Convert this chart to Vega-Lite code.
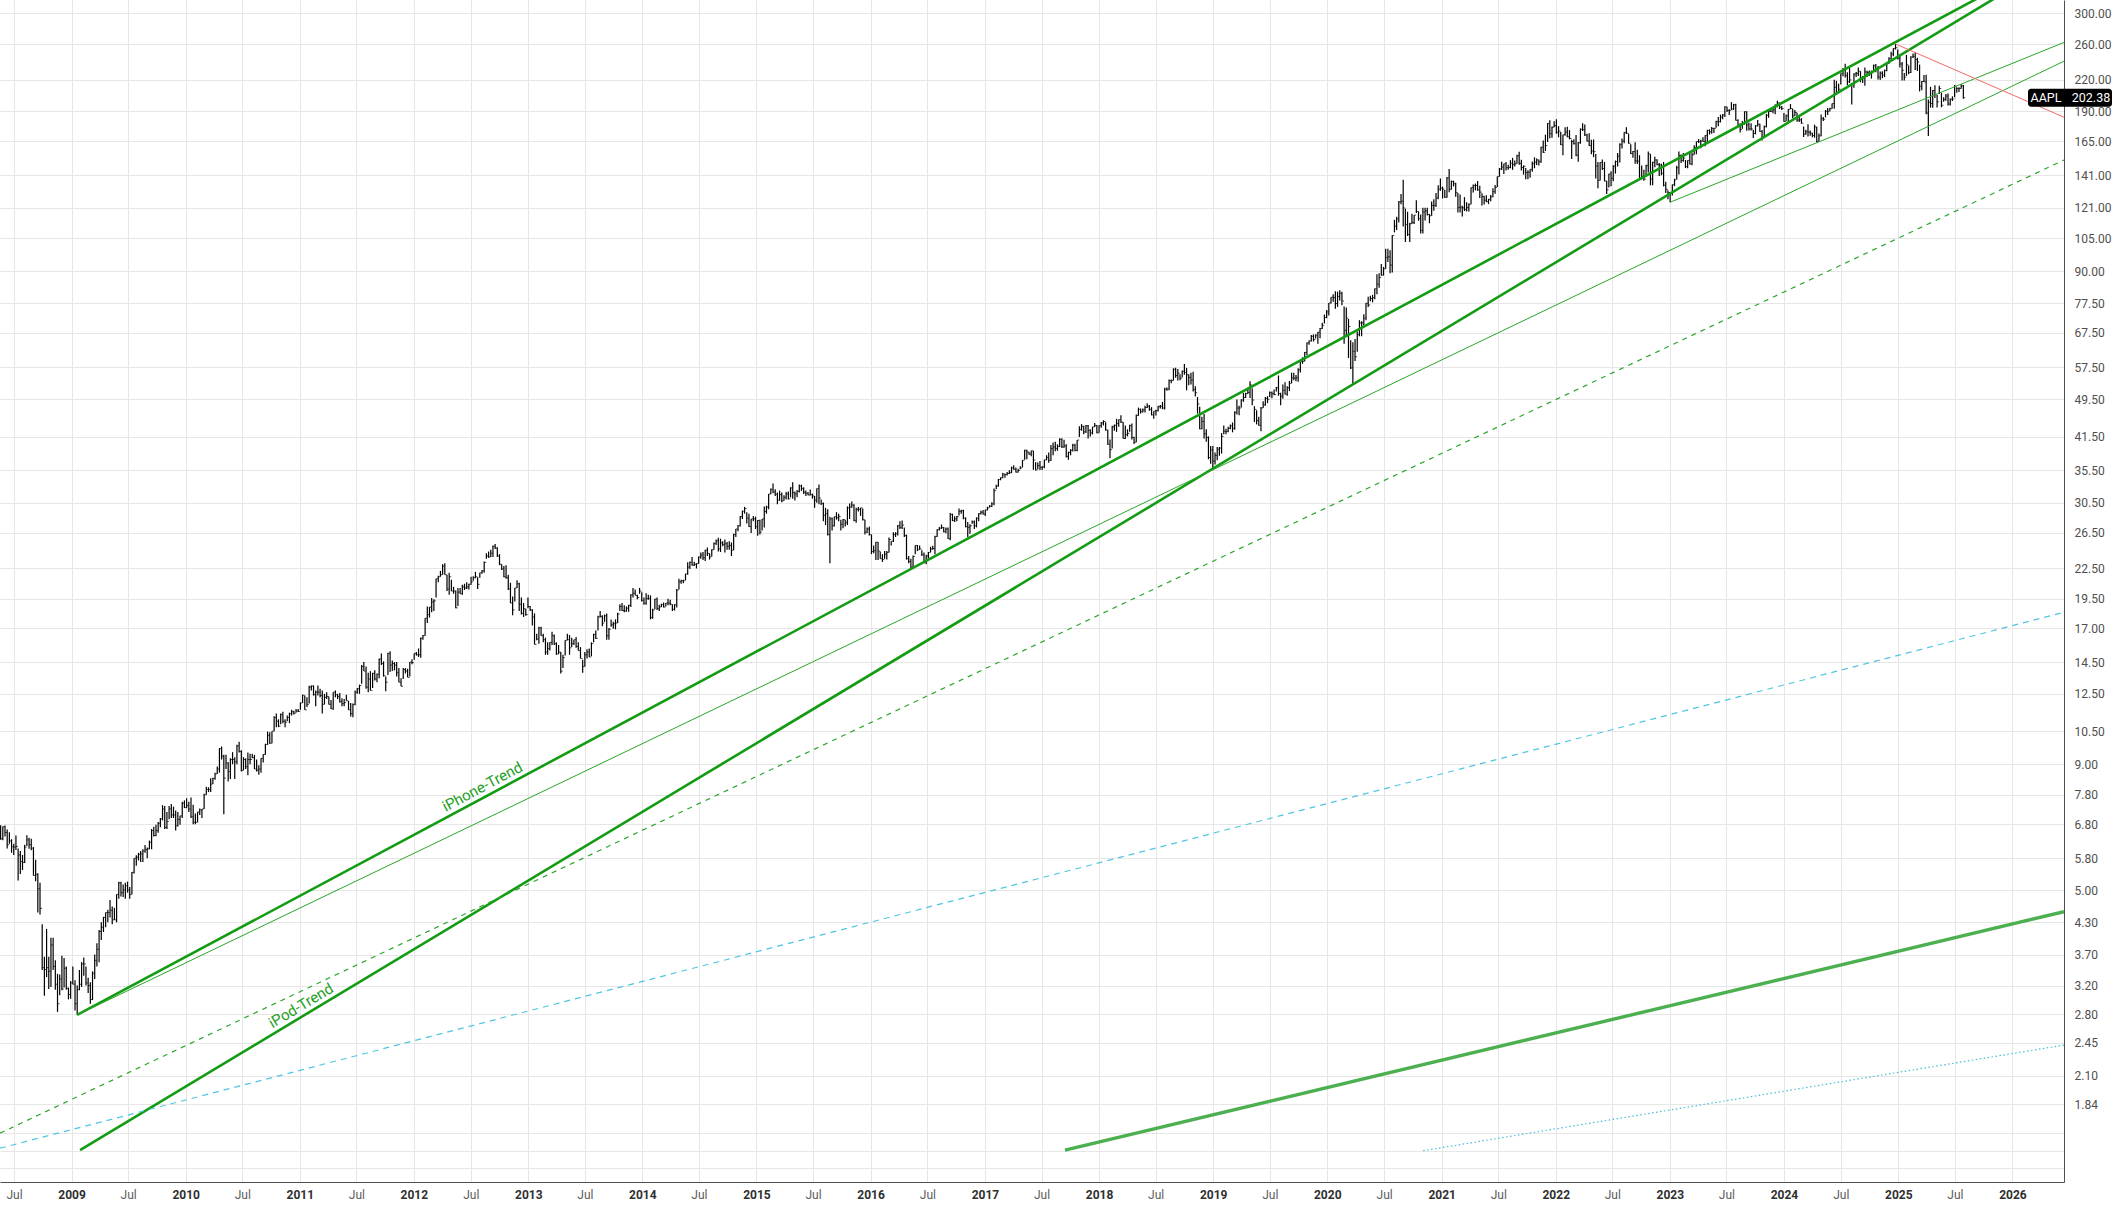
{
"$schema":"https://vega.github.io/schema/vega-lite/v6.json",
"width":2064,"height":1182,
"autosize":{"type":"none"},
"padding":{"left":0,"top":0,"right":55,"bottom":24},
"background":"#ffffff",
"config":{"view":{"stroke":null},"axis":{"labelFont":"Roboto","labelFontSize":12}},
"datasets":{
"tl":[
{"id":"iPhone","d":"2009-01-19","p":2.79},{"id":"iPhone","d":"2026-01-01","p":351.2},
{"id":"iPod","d":"2009-01-28","p":1.484},{"id":"iPod","d":"2026-01-01","p":338.3},
{"id":"thin1","d":"2009-01-19","p":2.79},{"id":"thin1","d":"2026-06-15","p":240},
{"id":"thin2","d":"2023-01-02","p":124.2},{"id":"thin2","d":"2026-06-15","p":262},
{"id":"red","d":"2024-12-23","p":260.1},{"id":"red","d":"2026-06-15","p":184.7},
{"id":"dg","d":"2008-05-17","p":1.606},{"id":"dg","d":"2026-06-15","p":151.3},
{"id":"cd","d":"2008-05-17","p":1.497},{"id":"cd","d":"2026-06-15","p":18.3},
{"id":"lt","d":"2017-09-14","p":1.484},{"id":"lt","d":"2026-06-15","p":4.52},
{"id":"cdot","d":"2020-11-03","p":1.48},{"id":"cdot","d":"2026-06-15","p":2.424}
],
"lb":[{"t":"iPhone-Trend","d":"2012-08-22","p":7.77},{"t":"iPod-Trend","d":"2011-01-21","p":2.8}],
"last":[{"s":"AAPL","d":"2026-06-15","p":202.38}],
"px":[
{"d":"2008-05-19","h":6.77,"l":6.32,"c":6.35},{"d":"2008-05-26","h":6.73,"l":6.31,"c":6.72},{"d":"2008-06-02","h":6.76,"l":6.42,"c":6.54},{"d":"2008-06-09","h":6.63,"l":6.07,"c":6.18},{"d":"2008-06-16","h":6.55,"l":6.21,"c":6.29},{"d":"2008-06-23","h":6.34,"l":5.95,"c":6.12},{"d":"2008-06-30","h":6.21,"l":5.89,"c":6.11},{"d":"2008-07-07","h":6.45,"l":6.03,"c":6.13},{"d":"2008-07-14","h":6.07,"l":5.23,"c":5.89},{"d":"2008-07-21","h":6.0,"l":5.39,"c":5.71},{"d":"2008-07-28","h":5.89,"l":5.49,"c":5.69},{"d":"2008-08-04","h":6.18,"l":5.67,"c":6.11},{"d":"2008-08-11","h":6.46,"l":6.14,"c":6.32},{"d":"2008-08-18","h":6.38,"l":6.06,"c":6.18},{"d":"2008-08-25","h":6.35,"l":6.02,"c":6.08},{"d":"2008-09-01","h":6.11,"l":5.35,"c":5.35},{"d":"2008-09-08","h":5.76,"l":5.21,"c":5.38},{"d":"2008-09-15","h":5.41,"l":4.5,"c":5.03},{"d":"2008-09-22","h":5.17,"l":4.46,"c":4.59},{"d":"2008-09-29","h":4.26,"l":3.44,"c":3.48},{"d":"2008-10-06","h":3.66,"l":3.05,"c":3.45},{"d":"2008-10-13","h":4.17,"l":3.33,"c":3.48},{"d":"2008-10-20","h":3.66,"l":3.15,"c":3.42},{"d":"2008-10-27","h":4.0,"l":3.18,"c":3.87},{"d":"2008-11-03","h":4.0,"l":3.44,"c":3.5},{"d":"2008-11-10","h":3.6,"l":3.14,"c":3.22},{"d":"2008-11-17","h":3.38,"l":2.83,"c":2.94},{"d":"2008-11-24","h":3.37,"l":3.06,"c":3.3},{"d":"2008-12-01","h":3.68,"l":3.13,"c":3.15},{"d":"2008-12-08","h":3.64,"l":3.17,"c":3.47},{"d":"2008-12-15","h":3.5,"l":3.14,"c":3.16},{"d":"2008-12-22","h":3.17,"l":3.0,"c":3.07},{"d":"2008-12-29","h":3.27,"l":3.01,"c":3.24},
{"d":"2009-01-05","h":3.5,"l":3.22,"c":3.22},{"d":"2009-01-12","h":3.28,"l":2.85,"c":2.94},{"d":"2009-01-19","h":3.2,"l":2.79,"c":3.14},{"d":"2009-01-26","h":3.44,"l":3.13,"c":3.22},{"d":"2009-02-02","h":3.57,"l":3.18,"c":3.54},{"d":"2009-02-09","h":3.65,"l":3.35,"c":3.54},{"d":"2009-02-16","h":3.5,"l":3.2,"c":3.24},{"d":"2009-02-23","h":3.32,"l":3.09,"c":3.2},{"d":"2009-03-02","h":3.25,"l":2.94,"c":3.0},{"d":"2009-03-09","h":3.42,"l":2.99,"c":3.39},{"d":"2009-03-16","h":3.7,"l":3.3,"c":3.6},{"d":"2009-03-23","h":3.9,"l":3.5,"c":3.79},{"d":"2009-03-30","h":4.15,"l":3.57,"c":4.12},{"d":"2009-04-06","h":4.3,"l":3.96,"c":4.2},{"d":"2009-04-13","h":4.41,"l":4.11,"c":4.4},{"d":"2009-04-20","h":4.5,"l":4.2,"c":4.5},{"d":"2009-04-27","h":4.56,"l":4.3,"c":4.5},{"d":"2009-05-04","h":4.77,"l":4.4,"c":4.55},{"d":"2009-05-11","h":4.63,"l":4.26,"c":4.35},{"d":"2009-05-18","h":4.6,"l":4.35,"c":4.35},{"d":"2009-05-25","h":4.9,"l":4.3,"c":4.9},{"d":"2009-06-01","h":5.2,"l":4.8,"c":5.17},{"d":"2009-06-08","h":5.2,"l":4.85,"c":4.94},{"d":"2009-06-15","h":5.13,"l":4.84,"c":5.0},{"d":"2009-06-22","h":5.17,"l":4.8,"c":5.1},{"d":"2009-06-29","h":5.2,"l":4.94,"c":5.0},{"d":"2009-07-06","h":5.07,"l":4.8,"c":4.9},{"d":"2009-07-13","h":5.44,"l":4.9,"c":5.43},{"d":"2009-07-20","h":5.8,"l":5.4,"c":5.8},{"d":"2009-07-27","h":5.88,"l":5.6,"c":5.83},{"d":"2009-08-03","h":5.95,"l":5.74,"c":5.91},{"d":"2009-08-10","h":6.0,"l":5.7,"c":5.92},{"d":"2009-08-17","h":6.05,"l":5.7,"c":6.0},{"d":"2009-08-24","h":6.17,"l":5.95,"c":6.04},{"d":"2009-08-31","h":6.1,"l":5.8,"c":6.06},{"d":"2009-09-07","h":6.3,"l":6.05,"c":6.25},{"d":"2009-09-14","h":6.65,"l":6.05,"c":6.6},{"d":"2009-09-21","h":6.72,"l":6.42,"c":6.45},{"d":"2009-09-28","h":6.78,"l":6.43,"c":6.6},{"d":"2009-10-05","h":6.87,"l":6.53,"c":6.83},{"d":"2009-10-12","h":7.0,"l":6.7,"c":6.97},{"d":"2009-10-19","h":7.43,"l":6.92,"c":7.3},{"d":"2009-10-26","h":7.4,"l":6.65,"c":6.7},{"d":"2009-11-02","h":7.2,"l":6.65,"c":6.89},{"d":"2009-11-09","h":7.4,"l":6.96,"c":7.3},{"d":"2009-11-16","h":7.47,"l":7.0,"c":7.1},{"d":"2009-11-23","h":7.38,"l":7.0,"c":7.1},{"d":"2009-11-30","h":7.25,"l":6.6,"c":6.75},{"d":"2009-12-07","h":7.2,"l":6.73,"c":6.95},{"d":"2009-12-14","h":7.07,"l":6.78,"c":7.07},{"d":"2009-12-21","h":7.55,"l":7.0,"c":7.5},{"d":"2009-12-28","h":7.6,"l":7.33,"c":7.35},
{"d":"2010-01-04","h":7.68,"l":7.33,"c":7.42},{"d":"2010-01-11","h":7.55,"l":7.2,"c":7.3},{"d":"2010-01-18","h":7.7,"l":7.0,"c":7.04},{"d":"2010-01-25","h":7.45,"l":6.8,"c":6.86},{"d":"2010-02-01","h":7.15,"l":6.8,"c":6.86},{"d":"2010-02-08","h":7.2,"l":6.86,"c":7.2},{"d":"2010-02-15","h":7.32,"l":7.1,"c":7.27},{"d":"2010-02-22","h":7.3,"l":7.0,"c":7.3},{"d":"2010-03-01","h":7.84,"l":7.3,"c":7.8},{"d":"2010-03-08","h":8.1,"l":7.8,"c":8.0},{"d":"2010-03-15","h":8.08,"l":7.9,"c":8.0},{"d":"2010-03-22","h":8.43,"l":7.9,"c":8.2},{"d":"2010-03-29","h":8.45,"l":8.2,"c":8.42},{"d":"2010-04-05","h":8.65,"l":8.37,"c":8.6},{"d":"2010-04-12","h":8.9,"l":8.6,"c":8.8},{"d":"2010-04-19","h":9.7,"l":8.65,"c":9.68},{"d":"2010-04-26","h":9.77,"l":9.2,"c":9.34},{"d":"2010-05-03","h":9.4,"l":7.12,"c":8.43},{"d":"2010-05-10","h":9.4,"l":8.8,"c":9.05},{"d":"2010-05-17","h":9.08,"l":8.3,"c":8.7},{"d":"2010-05-24","h":9.25,"l":8.4,"c":9.2},{"d":"2010-05-31","h":9.52,"l":9.0,"c":9.2},{"d":"2010-06-07","h":9.3,"l":8.4,"c":9.1},{"d":"2010-06-14","h":9.85,"l":9.0,"c":9.8},{"d":"2010-06-21","h":10.0,"l":9.5,"c":9.55},{"d":"2010-06-28","h":9.6,"l":8.7,"c":8.74},{"d":"2010-07-05","h":9.3,"l":8.75,"c":9.2},{"d":"2010-07-12","h":9.25,"l":8.8,"c":8.9},{"d":"2010-07-19","h":9.5,"l":8.55,"c":9.2},{"d":"2010-07-26","h":9.45,"l":9.0,"c":9.2},{"d":"2010-08-02","h":9.45,"l":9.25,"c":9.28},{"d":"2010-08-09","h":9.4,"l":8.8,"c":8.8},{"d":"2010-08-16","h":9.2,"l":8.7,"c":8.75},{"d":"2010-08-23","h":8.96,"l":8.57,"c":8.8},{"d":"2010-08-30","h":9.25,"l":8.65,"c":9.25},{"d":"2010-09-06","h":9.43,"l":9.07,"c":9.42},{"d":"2010-09-13","h":9.9,"l":9.4,"c":9.87},{"d":"2010-09-20","h":10.48,"l":9.85,"c":10.3},{"d":"2010-09-27","h":10.45,"l":9.9,"c":9.92},{"d":"2010-10-04","h":10.5,"l":9.93,"c":10.5},{"d":"2010-10-11","h":11.26,"l":10.5,"c":11.2},{"d":"2010-10-18","h":11.4,"l":10.7,"c":11.0},{"d":"2010-10-25","h":11.1,"l":10.7,"c":10.75},{"d":"2010-11-01","h":11.4,"l":10.85,"c":11.35},{"d":"2010-11-08","h":11.5,"l":10.9,"c":11.0},{"d":"2010-11-15","h":11.1,"l":10.7,"c":10.95},{"d":"2010-11-22","h":11.3,"l":11.0,"c":11.2},{"d":"2010-11-29","h":11.45,"l":10.9,"c":11.4},{"d":"2010-12-06","h":11.6,"l":11.3,"c":11.5},{"d":"2010-12-13","h":11.55,"l":11.35,"c":11.42},{"d":"2010-12-20","h":11.65,"l":11.45,"c":11.54},{"d":"2010-12-27","h":11.64,"l":11.48,"c":11.52},
{"d":"2011-01-03","h":12.0,"l":11.6,"c":11.98},{"d":"2011-01-10","h":12.45,"l":11.98,"c":12.42},{"d":"2011-01-17","h":12.4,"l":11.6,"c":11.6},{"d":"2011-01-24","h":12.3,"l":11.75,"c":11.9},{"d":"2011-01-31","h":12.98,"l":11.95,"c":12.9},{"d":"2011-02-07","h":13.0,"l":12.7,"c":12.97},{"d":"2011-02-14","h":13.0,"l":12.4,"c":12.45},{"d":"2011-02-21","h":12.7,"l":11.8,"c":12.6},{"d":"2011-02-28","h":13.0,"l":12.4,"c":12.6},{"d":"2011-03-07","h":12.8,"l":12.3,"c":12.4},{"d":"2011-03-14","h":12.7,"l":11.4,"c":11.9},{"d":"2011-03-21","h":12.5,"l":11.9,"c":12.3},{"d":"2011-03-28","h":12.6,"l":12.2,"c":12.35},{"d":"2011-04-04","h":12.35,"l":11.9,"c":11.9},{"d":"2011-04-11","h":12.15,"l":11.65,"c":11.66},{"d":"2011-04-18","h":12.6,"l":11.6,"c":12.6},{"d":"2011-04-25","h":12.7,"l":12.3,"c":12.45},{"d":"2011-05-02","h":12.5,"l":12.2,"c":12.35},{"d":"2011-05-09","h":12.55,"l":12.0,"c":12.05},{"d":"2011-05-16","h":12.25,"l":11.8,"c":11.94},{"d":"2011-05-23","h":12.2,"l":11.8,"c":12.0},{"d":"2011-05-30","h":12.45,"l":12.1,"c":12.1},{"d":"2011-06-06","h":12.1,"l":11.6,"c":11.6},{"d":"2011-06-13","h":11.98,"l":11.25,"c":11.4},{"d":"2011-06-20","h":11.95,"l":11.2,"c":11.9},{"d":"2011-06-27","h":12.7,"l":11.85,"c":12.6},{"d":"2011-07-04","h":12.85,"l":12.5,"c":12.8},{"d":"2011-07-11","h":13.05,"l":12.5,"c":13.0},{"d":"2011-07-18","h":14.3,"l":13.1,"c":14.2},{"d":"2011-07-25","h":14.5,"l":13.9,"c":13.9},{"d":"2011-08-01","h":14.2,"l":12.8,"c":12.9},{"d":"2011-08-08","h":13.8,"l":12.6,"c":13.4},{"d":"2011-08-15","h":13.9,"l":12.7,"c":12.7},{"d":"2011-08-22","h":13.8,"l":12.85,"c":13.75},{"d":"2011-08-29","h":13.95,"l":13.3,"c":13.4},{"d":"2011-09-05","h":13.75,"l":13.2,"c":13.7},{"d":"2011-09-12","h":14.75,"l":13.45,"c":14.7},{"d":"2011-09-19","h":15.1,"l":14.3,"c":14.4},{"d":"2011-09-26","h":14.55,"l":13.55,"c":13.6},{"d":"2011-10-03","h":13.55,"l":12.65,"c":13.2},{"d":"2011-10-10","h":15.15,"l":13.65,"c":15.1},{"d":"2011-10-17","h":15.25,"l":13.85,"c":14.3},{"d":"2011-10-24","h":14.6,"l":13.9,"c":14.4},{"d":"2011-10-31","h":14.5,"l":13.95,"c":14.3},{"d":"2011-11-07","h":14.5,"l":13.55,"c":13.8},{"d":"2011-11-14","h":14.1,"l":13.2,"c":13.2},{"d":"2011-11-21","h":13.45,"l":12.95,"c":12.95},{"d":"2011-11-28","h":14.1,"l":13.4,"c":14.0},{"d":"2011-12-05","h":14.1,"l":13.75,"c":13.9},{"d":"2011-12-12","h":14.05,"l":13.5,"c":13.5},{"d":"2011-12-19","h":14.5,"l":13.55,"c":14.5},{"d":"2011-12-26","h":14.7,"l":14.35,"c":14.46},
{"d":"2012-01-02","h":15.1,"l":14.65,"c":15.1},{"d":"2012-01-09","h":15.2,"l":14.95,"c":15.0},{"d":"2012-01-16","h":15.45,"l":14.85,"c":15.0},{"d":"2012-01-23","h":16.27,"l":14.8,"c":16.2},{"d":"2012-01-30","h":16.45,"l":16.1,"c":16.4},{"d":"2012-02-06","h":17.8,"l":16.4,"c":17.8},{"d":"2012-02-13","h":18.8,"l":17.4,"c":18.1},{"d":"2012-02-20","h":18.75,"l":17.85,"c":18.75},{"d":"2012-02-27","h":19.55,"l":18.3,"c":19.2},{"d":"2012-03-05","h":19.45,"l":18.4,"c":19.3},{"d":"2012-03-12","h":21.4,"l":19.6,"c":21.4},{"d":"2012-03-19","h":21.7,"l":21.05,"c":21.6},{"d":"2012-03-26","h":22.2,"l":21.6,"c":21.8},{"d":"2012-04-02","h":22.9,"l":21.8,"c":22.7},{"d":"2012-04-09","h":23.0,"l":21.8,"c":21.8},{"d":"2012-04-16","h":21.8,"l":20.2,"c":20.4},{"d":"2012-04-23","h":22.0,"l":19.85,"c":21.6},{"d":"2012-04-30","h":21.3,"l":20.2,"c":20.2},{"d":"2012-05-07","h":20.6,"l":19.95,"c":20.2},{"d":"2012-05-14","h":20.25,"l":18.65,"c":18.68},{"d":"2012-05-21","h":20.5,"l":18.85,"c":20.1},{"d":"2012-05-28","h":20.5,"l":19.95,"c":19.95},{"d":"2012-06-04","h":20.8,"l":19.85,"c":20.6},{"d":"2012-06-11","h":20.9,"l":20.3,"c":20.5},{"d":"2012-06-18","h":21.05,"l":20.4,"c":20.6},{"d":"2012-06-25","h":20.9,"l":20.35,"c":20.85},{"d":"2012-07-02","h":21.6,"l":20.8,"c":21.1},{"d":"2012-07-09","h":21.65,"l":21.2,"c":21.5},{"d":"2012-07-16","h":22.1,"l":21.45,"c":21.6},{"d":"2012-07-23","h":21.55,"l":20.4,"c":20.85},{"d":"2012-07-30","h":22.0,"l":21.5,"c":22.0},{"d":"2012-08-06","h":22.3,"l":21.9,"c":22.2},{"d":"2012-08-13","h":23.2,"l":22.0,"c":23.1},{"d":"2012-08-20","h":24.1,"l":23.5,"c":23.8},{"d":"2012-08-27","h":24.3,"l":23.6,"c":23.7},{"d":"2012-09-03","h":24.5,"l":23.7,"c":24.1},{"d":"2012-09-10","h":25.0,"l":23.7,"c":24.9},{"d":"2012-09-17","h":25.18,"l":24.6,"c":24.7},{"d":"2012-09-24","h":24.8,"l":23.7,"c":23.8},{"d":"2012-10-01","h":24.0,"l":22.8,"c":22.9},{"d":"2012-10-08","h":22.9,"l":22.3,"c":22.4},{"d":"2012-10-15","h":22.7,"l":21.55,"c":21.6},{"d":"2012-10-22","h":22.8,"l":21.4,"c":21.5},{"d":"2012-10-29","h":21.8,"l":20.3,"c":20.4},{"d":"2012-11-05","h":21.0,"l":19.1,"c":19.1},{"d":"2012-11-12","h":19.7,"l":18.05,"c":18.5},{"d":"2012-11-19","h":20.5,"l":19.25,"c":20.5},{"d":"2012-11-26","h":21.25,"l":20.5,"c":20.9},{"d":"2012-12-03","h":21.0,"l":18.4,"c":19.0},{"d":"2012-12-10","h":19.6,"l":18.1,"c":18.2},{"d":"2012-12-17","h":19.1,"l":17.9,"c":18.6},{"d":"2012-12-24","h":18.6,"l":18.0,"c":18.1},{"d":"2012-12-31","h":19.6,"l":18.65,"c":18.8},
{"d":"2013-01-07","h":18.85,"l":18.4,"c":18.5},{"d":"2013-01-14","h":18.55,"l":17.2,"c":17.9},{"d":"2013-01-21","h":18.2,"l":15.75,"c":15.75},{"d":"2013-01-28","h":16.55,"l":16.05,"c":16.15},{"d":"2013-02-04","h":17.1,"l":15.8,"c":17.0},{"d":"2013-02-11","h":17.1,"l":16.4,"c":16.4},{"d":"2013-02-18","h":16.55,"l":15.9,"c":16.1},{"d":"2013-02-25","h":16.25,"l":15.0,"c":15.2},{"d":"2013-03-04","h":15.9,"l":15.0,"c":15.44},{"d":"2013-03-11","h":15.9,"l":15.3,"c":15.9},{"d":"2013-03-18","h":16.7,"l":15.7,"c":16.4},{"d":"2013-03-25","h":16.5,"l":15.7,"c":15.8},{"d":"2013-04-01","h":15.9,"l":15.0,"c":15.06},{"d":"2013-04-08","h":15.7,"l":15.05,"c":15.2},{"d":"2013-04-15","h":15.2,"l":13.75,"c":13.9},{"d":"2013-04-22","h":15.0,"l":14.1,"c":14.8},{"d":"2013-04-29","h":16.05,"l":14.95,"c":16.05},{"d":"2013-05-06","h":16.55,"l":16.05,"c":16.1},{"d":"2013-05-13","h":16.45,"l":15.0,"c":15.5},{"d":"2013-05-20","h":16.25,"l":15.55,"c":15.8},{"d":"2013-05-27","h":16.1,"l":15.7,"c":16.1},{"d":"2013-06-03","h":16.3,"l":15.5,"c":15.6},{"d":"2013-06-10","h":15.9,"l":15.3,"c":15.3},{"d":"2013-06-17","h":15.55,"l":14.75,"c":14.75},{"d":"2013-06-24","h":14.65,"l":13.8,"c":14.2},{"d":"2013-07-01","h":15.2,"l":14.2,"c":15.0},{"d":"2013-07-08","h":15.4,"l":14.75,"c":15.2},{"d":"2013-07-15","h":15.45,"l":14.85,"c":14.85},{"d":"2013-07-22","h":15.9,"l":14.9,"c":15.8},{"d":"2013-07-29","h":16.55,"l":15.9,"c":16.5},{"d":"2013-08-05","h":16.8,"l":16.15,"c":16.2},{"d":"2013-08-12","h":18.0,"l":16.8,"c":17.9},{"d":"2013-08-19","h":18.4,"l":17.85,"c":17.95},{"d":"2013-08-26","h":18.05,"l":17.15,"c":17.4},{"d":"2013-09-02","h":18.1,"l":17.5,"c":18.0},{"d":"2013-09-09","h":18.2,"l":16.1,"c":16.4},{"d":"2013-09-16","h":17.0,"l":16.1,"c":16.9},{"d":"2013-09-23","h":17.7,"l":17.1,"c":17.25},{"d":"2013-09-30","h":17.5,"l":16.95,"c":17.35},{"d":"2013-10-07","h":17.7,"l":16.9,"c":17.4},{"d":"2013-10-14","h":18.25,"l":17.4,"c":18.15},{"d":"2013-10-21","h":19.0,"l":18.4,"c":18.8},{"d":"2013-10-28","h":19.1,"l":18.4,"c":18.45},{"d":"2013-11-04","h":18.9,"l":18.3,"c":18.4},{"d":"2013-11-11","h":18.8,"l":18.35,"c":18.65},{"d":"2013-11-18","h":18.95,"l":18.35,"c":18.9},{"d":"2013-11-25","h":19.9,"l":18.75,"c":19.85},{"d":"2013-12-02","h":20.5,"l":19.6,"c":20.0},{"d":"2013-12-09","h":20.35,"l":19.8,"c":19.8},{"d":"2013-12-16","h":19.85,"l":19.45,"c":19.6},{"d":"2013-12-23","h":20.5,"l":19.95,"c":20.2},{"d":"2013-12-30","h":20.1,"l":19.25,"c":19.35},
{"d":"2014-01-06","h":19.6,"l":18.95,"c":19.1},{"d":"2014-01-13","h":20.0,"l":18.95,"c":19.5},{"d":"2014-01-20","h":19.85,"l":19.4,"c":19.5},{"d":"2014-01-27","h":19.8,"l":17.7,"c":17.85},{"d":"2014-02-03","h":18.6,"l":17.75,"c":18.5},{"d":"2014-02-10","h":19.5,"l":18.55,"c":19.45},{"d":"2014-02-17","h":19.6,"l":18.5,"c":18.6},{"d":"2014-02-24","h":18.95,"l":18.4,"c":18.75},{"d":"2014-03-03","h":19.05,"l":18.75,"c":18.95},{"d":"2014-03-10","h":19.15,"l":18.7,"c":18.75},{"d":"2014-03-17","h":19.1,"l":18.8,"c":19.1},{"d":"2014-03-24","h":19.5,"l":18.9,"c":19.1},{"d":"2014-03-31","h":19.4,"l":18.9,"c":19.0},{"d":"2014-04-07","h":19.0,"l":18.4,"c":18.55},{"d":"2014-04-14","h":19.0,"l":18.45,"c":18.95},{"d":"2014-04-21","h":20.4,"l":18.7,"c":20.3},{"d":"2014-04-28","h":21.4,"l":20.35,"c":21.1},{"d":"2014-05-05","h":21.3,"l":20.9,"c":21.2},{"d":"2014-05-12","h":21.3,"l":20.95,"c":21.2},{"d":"2014-05-19","h":21.9,"l":21.25,"c":21.9},{"d":"2014-05-26","h":23.1,"l":21.8,"c":22.6},{"d":"2014-06-02","h":23.2,"l":22.4,"c":23.1},{"d":"2014-06-09","h":23.7,"l":22.75,"c":22.82},{"d":"2014-06-16","h":23.17,"l":22.7,"c":22.9},{"d":"2014-06-23","h":23.0,"l":22.45,"c":22.97},{"d":"2014-06-30","h":23.75,"l":22.95,"c":23.7},{"d":"2014-07-07","h":24.2,"l":23.5,"c":23.9},{"d":"2014-07-14","h":24.25,"l":23.35,"c":23.6},{"d":"2014-07-21","h":24.5,"l":23.25,"c":24.45},{"d":"2014-07-28","h":24.75,"l":23.8,"c":24.1},{"d":"2014-08-04","h":24.1,"l":23.4,"c":23.7},{"d":"2014-08-11","h":24.55,"l":23.75,"c":24.5},{"d":"2014-08-18","h":25.35,"l":24.5,"c":25.25},{"d":"2014-08-25","h":25.7,"l":25.05,"c":25.55},{"d":"2014-09-01","h":25.9,"l":24.3,"c":24.6},{"d":"2014-09-08","h":25.8,"l":24.25,"c":25.3},{"d":"2014-09-15","h":25.5,"l":24.9,"c":25.1},{"d":"2014-09-22","h":25.7,"l":24.2,"c":25.2},{"d":"2014-09-29","h":25.4,"l":24.5,"c":24.9},{"d":"2014-10-06","h":25.5,"l":24.5,"c":25.0},{"d":"2014-10-13","h":25.35,"l":23.8,"c":24.45},{"d":"2014-10-20","h":26.4,"l":24.45,"c":26.3},{"d":"2014-10-27","h":27.0,"l":26.0,"c":27.0},{"d":"2014-11-03","h":27.5,"l":26.7,"c":27.4},{"d":"2014-11-10","h":28.7,"l":27.3,"c":28.6},{"d":"2014-11-17","h":29.4,"l":28.3,"c":29.35},{"d":"2014-11-24","h":29.94,"l":29.0,"c":29.7},{"d":"2014-12-01","h":29.2,"l":27.7,"c":28.4},{"d":"2014-12-08","h":29.0,"l":27.25,"c":27.3},{"d":"2014-12-15","h":28.3,"l":26.5,"c":28.3},{"d":"2014-12-22","h":28.7,"l":28.0,"c":28.3},{"d":"2014-12-29","h":28.6,"l":27.0,"c":27.3},
{"d":"2015-01-05","h":28.15,"l":26.16,"c":28.1},{"d":"2015-01-12","h":28.2,"l":26.3,"c":26.6},{"d":"2015-01-19","h":28.3,"l":26.8,"c":28.3},{"d":"2015-01-26","h":30.0,"l":27.2,"c":29.3},{"d":"2015-02-02","h":30.1,"l":29.0,"c":29.9},{"d":"2015-02-09","h":31.8,"l":29.6,"c":31.8},{"d":"2015-02-16","h":32.6,"l":31.75,"c":32.5},{"d":"2015-02-23","h":33.4,"l":31.9,"c":32.1},{"d":"2015-03-02","h":32.5,"l":31.5,"c":31.75},{"d":"2015-03-09","h":32.0,"l":30.3,"c":30.9},{"d":"2015-03-16","h":32.3,"l":30.8,"c":31.7},{"d":"2015-03-23","h":32.0,"l":30.6,"c":30.8},{"d":"2015-03-30","h":31.6,"l":30.8,"c":31.3},{"d":"2015-04-06","h":32.1,"l":31.0,"c":31.8},{"d":"2015-04-13","h":32.15,"l":31.0,"c":31.1},{"d":"2015-04-20","h":32.8,"l":31.3,"c":32.7},{"d":"2015-04-27","h":33.6,"l":31.1,"c":32.0},{"d":"2015-05-04","h":32.15,"l":30.85,"c":31.8},{"d":"2015-05-11","h":32.4,"l":31.3,"c":32.2},{"d":"2015-05-18","h":33.25,"l":32.0,"c":33.0},{"d":"2015-05-25","h":33.2,"l":32.25,"c":32.6},{"d":"2015-06-01","h":32.8,"l":31.8,"c":32.05},{"d":"2015-06-08","h":32.3,"l":31.5,"c":31.9},{"d":"2015-06-15","h":32.1,"l":31.6,"c":31.65},{"d":"2015-06-22","h":32.45,"l":31.55,"c":31.7},{"d":"2015-06-29","h":31.85,"l":31.1,"c":31.5},{"d":"2015-07-06","h":31.5,"l":29.8,"c":30.9},{"d":"2015-07-13","h":32.6,"l":30.5,"c":32.6},{"d":"2015-07-20","h":33.24,"l":30.3,"c":31.2},{"d":"2015-07-27","h":31.0,"l":30.2,"c":30.4},{"d":"2015-08-03","h":30.55,"l":28.0,"c":28.8},{"d":"2015-08-10","h":29.8,"l":27.5,"c":29.0},{"d":"2015-08-17","h":29.6,"l":26.2,"c":26.3},{"d":"2015-08-24","h":28.6,"l":23.0,"c":28.3},{"d":"2015-08-31","h":28.5,"l":26.8,"c":27.4},{"d":"2015-09-07","h":28.6,"l":27.3,"c":28.6},{"d":"2015-09-14","h":29.2,"l":28.2,"c":28.45},{"d":"2015-09-21","h":29.0,"l":28.0,"c":28.6},{"d":"2015-09-28","h":28.2,"l":26.8,"c":27.6},{"d":"2015-10-05","h":28.3,"l":27.1,"c":28.2},{"d":"2015-10-12","h":28.2,"l":27.3,"c":27.8},{"d":"2015-10-19","h":30.0,"l":27.5,"c":29.8},{"d":"2015-10-26","h":30.4,"l":28.3,"c":29.9},{"d":"2015-11-02","h":30.7,"l":29.8,"c":30.2},{"d":"2015-11-09","h":30.3,"l":28.0,"c":28.1},{"d":"2015-11-16","h":29.8,"l":27.8,"c":29.6},{"d":"2015-11-23","h":29.9,"l":29.3,"c":29.6},{"d":"2015-11-30","h":29.8,"l":28.7,"c":29.8},{"d":"2015-12-07","h":29.7,"l":28.1,"c":28.2},{"d":"2015-12-14","h":28.2,"l":26.3,"c":26.6},{"d":"2015-12-21","h":27.2,"l":26.5,"c":27.0},{"d":"2015-12-28","h":27.3,"l":26.2,"c":26.3},
{"d":"2016-01-04","h":26.3,"l":24.0,"c":24.3},{"d":"2016-01-11","h":25.0,"l":24.1,"c":24.4},{"d":"2016-01-18","h":25.4,"l":23.35,"c":25.4},{"d":"2016-01-25","h":25.4,"l":23.35,"c":24.35},{"d":"2016-02-01","h":24.3,"l":23.5,"c":23.5},{"d":"2016-02-08","h":24.0,"l":23.15,"c":23.4},{"d":"2016-02-15","h":24.35,"l":23.5,"c":24.0},{"d":"2016-02-22","h":24.35,"l":23.4,"c":24.2},{"d":"2016-02-29","h":25.95,"l":24.2,"c":25.7},{"d":"2016-03-07","h":25.5,"l":25.0,"c":25.5},{"d":"2016-03-14","h":26.6,"l":25.4,"c":26.3},{"d":"2016-03-21","h":26.6,"l":26.0,"c":26.4},{"d":"2016-03-28","h":27.5,"l":26.2,"c":27.4},{"d":"2016-04-04","h":28.0,"l":27.0,"c":27.2},{"d":"2016-04-11","h":28.1,"l":27.0,"c":27.5},{"d":"2016-04-18","h":27.2,"l":26.0,"c":26.2},{"d":"2016-04-25","h":26.3,"l":23.4,"c":23.5},{"d":"2016-05-02","h":23.8,"l":23.0,"c":23.2},{"d":"2016-05-09","h":23.5,"l":22.37,"c":22.6},{"d":"2016-05-16","h":23.85,"l":22.4,"c":23.75},{"d":"2016-05-23","h":25.0,"l":24.0,"c":25.0},{"d":"2016-05-30","h":25.05,"l":24.35,"c":24.5},{"d":"2016-06-06","h":25.0,"l":24.5,"c":24.6},{"d":"2016-06-13","h":24.45,"l":23.8,"c":23.95},{"d":"2016-06-20","h":24.2,"l":23.0,"c":23.1},{"d":"2016-06-27","h":23.95,"l":22.9,"c":23.8},{"d":"2016-07-04","h":24.25,"l":23.5,"c":24.2},{"d":"2016-07-11","h":24.85,"l":24.2,"c":24.6},{"d":"2016-07-18","h":24.97,"l":24.5,"c":24.65},{"d":"2016-07-25","h":26.15,"l":24.0,"c":26.05},{"d":"2016-08-01","h":26.95,"l":26.0,"c":26.9},{"d":"2016-08-08","h":27.25,"l":26.8,"c":27.1},{"d":"2016-08-15","h":27.57,"l":27.0,"c":27.2},{"d":"2016-08-22","h":27.25,"l":26.6,"c":26.65},{"d":"2016-08-29","h":27.2,"l":26.45,"c":27.0},{"d":"2016-09-05","h":27.2,"l":25.75,"c":25.8},{"d":"2016-09-12","h":29.1,"l":25.6,"c":28.9},{"d":"2016-09-19","h":29.0,"l":28.0,"c":28.1},{"d":"2016-09-26","h":28.65,"l":27.9,"c":28.3},{"d":"2016-10-03","h":28.7,"l":28.0,"c":28.6},{"d":"2016-10-10","h":29.7,"l":28.75,"c":29.3},{"d":"2016-10-17","h":29.55,"l":29.0,"c":29.4},{"d":"2016-10-24","h":29.55,"l":28.25,"c":28.4},{"d":"2016-10-31","h":28.5,"l":27.2,"c":27.3},{"d":"2016-11-07","h":27.9,"l":26.0,"c":27.2},{"d":"2016-11-14","h":27.6,"l":26.4,"c":27.4},{"d":"2016-11-21","h":28.1,"l":27.65,"c":27.9},{"d":"2016-11-28","h":28.1,"l":27.0,"c":27.4},{"d":"2016-12-05","h":28.5,"l":27.2,"c":28.4},{"d":"2016-12-12","h":29.05,"l":28.0,"c":29.0},{"d":"2016-12-19","h":29.4,"l":28.9,"c":29.2},{"d":"2016-12-26","h":29.5,"l":28.9,"c":28.95},
{"d":"2017-01-02","h":29.55,"l":28.7,"c":29.5},{"d":"2017-01-09","h":29.95,"l":29.45,"c":29.8},{"d":"2017-01-16","h":30.2,"l":29.85,"c":30.0},{"d":"2017-01-23","h":30.6,"l":29.9,"c":30.35},{"d":"2017-01-30","h":32.6,"l":30.15,"c":32.3},{"d":"2017-02-06","h":33.2,"l":32.5,"c":33.0},{"d":"2017-02-13","h":34.1,"l":32.9,"c":34.0},{"d":"2017-02-20","h":34.35,"l":33.9,"c":34.3},{"d":"2017-02-27","h":35.07,"l":34.2,"c":34.9},{"d":"2017-03-06","h":34.95,"l":34.3,"c":34.8},{"d":"2017-03-13","h":35.25,"l":34.65,"c":35.0},{"d":"2017-03-20","h":35.5,"l":34.9,"c":35.1},{"d":"2017-03-27","h":36.12,"l":35.05,"c":35.9},{"d":"2017-04-03","h":36.37,"l":35.6,"c":35.7},{"d":"2017-04-10","h":35.97,"l":35.15,"c":35.2},{"d":"2017-04-17","h":35.75,"l":35.15,"c":35.5},{"d":"2017-04-24","h":36.2,"l":35.7,"c":35.9},{"d":"2017-05-01","h":37.22,"l":36.0,"c":37.2},{"d":"2017-05-08","h":39.1,"l":37.3,"c":39.0},{"d":"2017-05-15","h":39.1,"l":37.4,"c":38.7},{"d":"2017-05-22","h":38.7,"l":38.2,"c":38.3},{"d":"2017-05-29","h":38.9,"l":37.9,"c":38.9},{"d":"2017-06-05","h":38.9,"l":35.6,"c":37.25},{"d":"2017-06-12","h":36.9,"l":35.5,"c":35.57},{"d":"2017-06-19","h":36.85,"l":35.7,"c":36.3},{"d":"2017-06-26","h":37.1,"l":35.55,"c":36.0},{"d":"2017-07-03","h":36.2,"l":35.55,"c":36.1},{"d":"2017-07-10","h":37.3,"l":35.85,"c":37.3},{"d":"2017-07-17","h":38.1,"l":37.2,"c":37.7},{"d":"2017-07-24","h":38.6,"l":36.8,"c":37.2},{"d":"2017-07-31","h":39.95,"l":37.1,"c":39.3},{"d":"2017-08-07","h":40.45,"l":38.1,"c":39.6},{"d":"2017-08-14","h":40.6,"l":38.8,"c":39.3},{"d":"2017-08-21","h":40.1,"l":38.9,"c":39.7},{"d":"2017-08-28","h":41.23,"l":39.6,"c":41.0},{"d":"2017-09-04","h":41.23,"l":39.4,"c":39.6},{"d":"2017-09-11","h":40.95,"l":39.45,"c":39.8},{"d":"2017-09-18","h":40.1,"l":37.7,"c":37.9},{"d":"2017-09-25","h":38.75,"l":37.3,"c":38.6},{"d":"2017-10-02","h":39.2,"l":38.1,"c":39.0},{"d":"2017-10-09","h":40.2,"l":38.75,"c":39.9},{"d":"2017-10-16","h":40.2,"l":38.8,"c":39.0},{"d":"2017-10-23","h":40.9,"l":38.8,"c":40.9},{"d":"2017-10-30","h":43.6,"l":41.5,"c":43.0},{"d":"2017-11-06","h":44.06,"l":42.7,"c":43.6},{"d":"2017-11-13","h":43.7,"l":42.0,"c":42.5},{"d":"2017-11-20","h":43.9,"l":42.25,"c":43.7},{"d":"2017-11-27","h":43.9,"l":41.2,"c":42.8},{"d":"2017-12-04","h":43.0,"l":41.6,"c":42.3},{"d":"2017-12-11","h":43.5,"l":42.0,"c":43.5},{"d":"2017-12-18","h":44.3,"l":43.45,"c":43.8},{"d":"2017-12-25","h":43.9,"l":42.2,"c":42.3},
{"d":"2018-01-01","h":43.85,"l":42.3,"c":43.75},{"d":"2018-01-08","h":44.5,"l":43.3,"c":44.3},{"d":"2018-01-15","h":44.85,"l":43.8,"c":44.6},{"d":"2018-01-22","h":44.45,"l":42.7,"c":42.9},{"d":"2018-01-29","h":42.9,"l":40.0,"c":40.1},{"d":"2018-02-05","h":41.0,"l":37.56,"c":39.1},{"d":"2018-02-12","h":43.7,"l":39.3,"c":43.5},{"d":"2018-02-19","h":44.0,"l":42.7,"c":43.8},{"d":"2018-02-26","h":45.15,"l":42.5,"c":44.2},{"d":"2018-03-05","h":45.0,"l":43.5,"c":45.0},{"d":"2018-03-12","h":45.9,"l":44.3,"c":44.5},{"d":"2018-03-19","h":44.5,"l":41.2,"c":41.2},{"d":"2018-03-26","h":43.8,"l":41.1,"c":41.95},{"d":"2018-04-02","h":43.0,"l":41.6,"c":42.2},{"d":"2018-04-09","h":43.95,"l":42.5,"c":43.8},{"d":"2018-04-16","h":44.2,"l":41.0,"c":41.4},{"d":"2018-04-23","h":41.55,"l":40.15,"c":40.5},{"d":"2018-04-30","h":46.1,"l":40.5,"c":45.9},{"d":"2018-05-07","h":47.6,"l":45.8,"c":47.2},{"d":"2018-05-14","h":47.4,"l":46.3,"c":46.7},{"d":"2018-05-21","h":47.4,"l":46.5,"c":47.1},{"d":"2018-05-28","h":48.0,"l":46.5,"c":47.6},{"d":"2018-06-04","h":48.55,"l":47.5,"c":47.9},{"d":"2018-06-11","h":48.15,"l":46.9,"c":47.2},{"d":"2018-06-18","h":47.7,"l":45.9,"c":46.0},{"d":"2018-06-25","h":46.8,"l":45.2,"c":46.8},{"d":"2018-07-02","h":47.1,"l":45.85,"c":46.95},{"d":"2018-07-09","h":48.0,"l":46.75,"c":47.8},{"d":"2018-07-16","h":48.15,"l":47.4,"c":47.9},{"d":"2018-07-23","h":48.9,"l":47.25,"c":47.5},{"d":"2018-07-30","h":52.2,"l":47.2,"c":51.9},{"d":"2018-08-06","h":52.3,"l":51.5,"c":51.9},{"d":"2018-08-13","h":54.3,"l":51.6,"c":54.0},{"d":"2018-08-20","h":54.3,"l":53.3,"c":54.0},{"d":"2018-08-27","h":57.2,"l":54.0,"c":56.9},{"d":"2018-09-03","h":57.3,"l":54.7,"c":55.3},{"d":"2018-09-10","h":57.0,"l":54.0,"c":55.9},{"d":"2018-09-17","h":55.6,"l":54.1,"c":54.6},{"d":"2018-09-24","h":56.6,"l":54.8,"c":56.4},{"d":"2018-10-01","h":58.37,"l":55.5,"c":56.1},{"d":"2018-10-08","h":57.3,"l":51.6,"c":55.5},{"d":"2018-10-15","h":55.6,"l":52.8,"c":54.8},{"d":"2018-10-22","h":56.0,"l":53.0,"c":54.1},{"d":"2018-10-29","h":56.3,"l":51.3,"c":51.8},{"d":"2018-11-05","h":52.6,"l":50.1,"c":51.0},{"d":"2018-11-12","h":50.0,"l":46.3,"c":48.4},{"d":"2018-11-19","h":47.8,"l":43.0,"c":43.1},{"d":"2018-11-26","h":45.6,"l":43.0,"c":44.6},{"d":"2018-12-03","h":46.2,"l":41.2,"c":42.1},{"d":"2018-12-10","h":43.0,"l":40.6,"c":41.4},{"d":"2018-12-17","h":41.6,"l":37.4,"c":37.7},{"d":"2018-12-24","h":39.8,"l":36.6,"c":39.06},{"d":"2018-12-31","h":39.8,"l":35.5,"c":37.06},
{"d":"2019-01-07","h":38.6,"l":36.5,"c":38.07},{"d":"2019-01-14","h":39.6,"l":37.2,"c":39.2},{"d":"2019-01-21","h":39.6,"l":38.0,"c":39.4},{"d":"2019-01-28","h":42.25,"l":38.4,"c":41.6},{"d":"2019-02-04","h":43.8,"l":42.0,"c":42.6},{"d":"2019-02-11","h":43.1,"l":42.0,"c":42.6},{"d":"2019-02-18","h":43.5,"l":42.4,"c":43.2},{"d":"2019-02-25","h":44.0,"l":43.0,"c":43.7},{"d":"2019-03-04","h":44.4,"l":42.4,"c":43.2},{"d":"2019-03-11","h":46.8,"l":42.9,"c":46.5},{"d":"2019-03-18","h":49.4,"l":46.1,"c":47.5},{"d":"2019-03-25","h":48.0,"l":45.9,"c":47.5},{"d":"2019-04-01","h":49.5,"l":47.6,"c":49.3},{"d":"2019-04-08","h":51.0,"l":48.9,"c":49.9},{"d":"2019-04-15","h":51.0,"l":49.8,"c":50.8},{"d":"2019-04-22","h":52.1,"l":50.7,"c":51.1},{"d":"2019-04-29","h":53.8,"l":49.8,"c":52.9},{"d":"2019-05-06","h":52.1,"l":48.1,"c":49.3},{"d":"2019-05-13","h":47.9,"l":44.5,"c":47.2},{"d":"2019-05-20","h":47.0,"l":44.0,"c":44.8},{"d":"2019-05-27","h":45.6,"l":43.75,"c":43.8},{"d":"2019-06-03","h":47.75,"l":42.6,"c":47.5},{"d":"2019-06-10","h":49.0,"l":47.5,"c":48.2},{"d":"2019-06-17","h":50.0,"l":48.0,"c":49.7},{"d":"2019-06-24","h":50.2,"l":48.6,"c":49.5},{"d":"2019-07-01","h":51.3,"l":50.0,"c":51.0},{"d":"2019-07-08","h":51.3,"l":49.7,"c":50.8},{"d":"2019-07-15","h":51.8,"l":50.4,"c":50.6},{"d":"2019-07-22","h":52.4,"l":51.3,"c":52.2},{"d":"2019-07-29","h":55.3,"l":50.3,"c":50.8},{"d":"2019-08-05","h":51.0,"l":48.1,"c":50.2},{"d":"2019-08-12","h":53.0,"l":49.6,"c":51.6},{"d":"2019-08-19","h":53.6,"l":50.6,"c":50.7},{"d":"2019-08-26","h":52.6,"l":50.3,"c":52.2},{"d":"2019-09-02","h":53.9,"l":51.4,"c":53.3},{"d":"2019-09-09","h":56.0,"l":53.3,"c":54.7},{"d":"2019-09-16","h":56.0,"l":54.1,"c":54.6},{"d":"2019-09-23","h":55.4,"l":53.8,"c":54.7},{"d":"2019-09-30","h":57.2,"l":53.7,"c":56.8},{"d":"2019-10-07","h":59.4,"l":56.1,"c":59.1},{"d":"2019-10-14","h":60.2,"l":58.4,"c":59.1},{"d":"2019-10-21","h":61.7,"l":59.1,"c":61.6},{"d":"2019-10-28","h":64.5,"l":60.8,"c":64.4},{"d":"2019-11-04","h":65.1,"l":63.8,"c":65.0},{"d":"2019-11-11","h":66.8,"l":64.8,"c":66.4},{"d":"2019-11-18","h":67.0,"l":64.8,"c":65.4},{"d":"2019-11-25","h":67.0,"l":65.7,"c":66.8},{"d":"2019-12-02","h":67.75,"l":64.1,"c":67.7},{"d":"2019-12-09","h":69.0,"l":65.8,"c":68.8},{"d":"2019-12-16","h":70.7,"l":68.7,"c":69.9},{"d":"2019-12-23","h":73.5,"l":70.5,"c":72.5},{"d":"2019-12-30","h":75.1,"l":72.2,"c":74.4},
{"d":"2020-01-06","h":77.6,"l":73.2,"c":77.6},{"d":"2020-01-13","h":79.7,"l":77.4,"c":79.7},{"d":"2020-01-20","h":80.8,"l":78.0,"c":79.6},{"d":"2020-01-27","h":81.96,"l":75.5,"c":77.4},{"d":"2020-02-03","h":81.8,"l":76.2,"c":80.0},{"d":"2020-02-10","h":82.3,"l":78.5,"c":81.2},{"d":"2020-02-17","h":81.75,"l":76.8,"c":78.3},{"d":"2020-02-24","h":76.3,"l":64.1,"c":68.3},{"d":"2020-03-02","h":76.0,"l":66.4,"c":72.3},{"d":"2020-03-09","h":72.0,"l":60.0,"c":69.5},{"d":"2020-03-16","h":65.2,"l":57.0,"c":57.3},{"d":"2020-03-23","h":64.6,"l":53.15,"c":61.9},{"d":"2020-03-30","h":65.6,"l":59.2,"c":60.35},{"d":"2020-04-06","h":67.9,"l":61.8,"c":66.9},{"d":"2020-04-13","h":71.6,"l":66.4,"c":70.7},{"d":"2020-04-20","h":71.2,"l":66.4,"c":70.7},{"d":"2020-04-27","h":73.6,"l":69.8,"c":72.3},{"d":"2020-05-04","h":77.6,"l":71.6,"c":77.5},{"d":"2020-05-11","h":79.9,"l":76.1,"c":76.9},{"d":"2020-05-18","h":80.2,"l":78.2,"c":79.2},{"d":"2020-05-25","h":80.6,"l":77.8,"c":79.5},{"d":"2020-06-01","h":83.0,"l":78.9,"c":82.9},{"d":"2020-06-08","h":88.7,"l":80.8,"c":84.7},{"d":"2020-06-15","h":89.1,"l":83.3,"c":87.4},{"d":"2020-06-22","h":93.1,"l":88.1,"c":88.4},{"d":"2020-06-29","h":91.8,"l":88.2,"c":91.0},{"d":"2020-07-06","h":99.9,"l":91.0,"c":95.9},{"d":"2020-07-13","h":99.9,"l":93.9,"c":96.3},{"d":"2020-07-20","h":99.2,"l":89.1,"c":92.6},{"d":"2020-07-27","h":106.4,"l":89.4,"c":106.3},{"d":"2020-08-03","h":114.4,"l":107.9,"c":111.1},{"d":"2020-08-10","h":116.0,"l":109.1,"c":114.9},{"d":"2020-08-17","h":124.9,"l":113.0,"c":124.4},{"d":"2020-08-24","h":129.0,"l":123.0,"c":124.8},{"d":"2020-08-31","h":137.98,"l":110.9,"c":120.9},{"d":"2020-09-07","h":120.5,"l":103.1,"c":112.0},{"d":"2020-09-14","h":118.8,"l":106.1,"c":106.8},{"d":"2020-09-21","h":112.9,"l":103.1,"c":112.3},{"d":"2020-09-28","h":117.7,"l":112.2,"c":113.0},{"d":"2020-10-05","h":117.0,"l":112.2,"c":116.97},{"d":"2020-10-12","h":125.4,"l":118.1,"c":119.0},{"d":"2020-10-19","h":118.98,"l":113.9,"c":115.0},{"d":"2020-10-26","h":117.3,"l":107.3,"c":108.9},{"d":"2020-11-02","h":121.0,"l":107.3,"c":118.7},{"d":"2020-11-09","h":121.0,"l":114.1,"c":119.3},{"d":"2020-11-16","h":120.99,"l":116.8,"c":117.3},{"d":"2020-11-23","h":117.6,"l":112.6,"c":116.6},{"d":"2020-11-30","h":124.6,"l":116.6,"c":122.3},{"d":"2020-12-07","h":125.9,"l":119.4,"c":122.4},{"d":"2020-12-14","h":129.6,"l":121.5,"c":126.7},{"d":"2020-12-21","h":134.4,"l":126.0,"c":131.97},{"d":"2020-12-28","h":138.8,"l":131.0,"c":132.7},
{"d":"2021-01-04","h":133.6,"l":126.4,"c":132.05},{"d":"2021-01-11","h":131.5,"l":126.9,"c":127.1},{"d":"2021-01-18","h":139.7,"l":126.9,"c":139.1},{"d":"2021-01-25","h":145.1,"l":130.2,"c":131.96},{"d":"2021-02-01","h":137.4,"l":131.6,"c":136.8},{"d":"2021-02-08","h":137.4,"l":133.7,"c":135.4},{"d":"2021-02-15","h":136.0,"l":127.4,"c":129.9},{"d":"2021-02-22","h":129.7,"l":118.4,"c":121.3},{"d":"2021-03-01","h":128.7,"l":118.4,"c":121.4},{"d":"2021-03-08","h":122.2,"l":116.2,"c":121.0},{"d":"2021-03-15","h":127.2,"l":119.2,"c":119.99},{"d":"2021-03-22","h":124.2,"l":118.9,"c":121.2},{"d":"2021-03-29","h":123.5,"l":118.9,"c":123.0},{"d":"2021-04-05","h":133.0,"l":123.1,"c":133.0},{"d":"2021-04-12","h":135.0,"l":130.0,"c":134.2},{"d":"2021-04-19","h":135.5,"l":131.3,"c":134.3},{"d":"2021-04-26","h":137.1,"l":131.1,"c":131.5},{"d":"2021-05-03","h":134.1,"l":126.7,"c":130.2},{"d":"2021-05-10","h":129.5,"l":122.3,"c":127.5},{"d":"2021-05-17","h":128.0,"l":122.9,"c":125.4},{"d":"2021-05-24","h":128.3,"l":124.2,"c":124.6},{"d":"2021-05-31","h":126.2,"l":123.1,"c":125.9},{"d":"2021-06-07","h":128.5,"l":124.8,"c":127.35},{"d":"2021-06-14","h":132.6,"l":127.1,"c":130.5},{"d":"2021-06-21","h":134.6,"l":129.2,"c":133.1},{"d":"2021-06-28","h":140.0,"l":133.3,"c":140.0},{"d":"2021-07-05","h":145.7,"l":139.9,"c":145.1},{"d":"2021-07-12","h":150.0,"l":144.4,"c":146.4},{"d":"2021-07-19","h":148.7,"l":141.7,"c":148.6},{"d":"2021-07-26","h":149.8,"l":144.0,"c":145.9},{"d":"2021-08-02","h":148.0,"l":144.6,"c":146.1},{"d":"2021-08-09","h":151.2,"l":145.5,"c":149.1},{"d":"2021-08-16","h":152.8,"l":144.5,"c":148.2},{"d":"2021-08-23","h":150.9,"l":146.8,"c":148.6},{"d":"2021-08-30","h":155.0,"l":148.6,"c":154.3},{"d":"2021-09-06","h":157.3,"l":148.0,"c":148.97},{"d":"2021-09-13","h":151.4,"l":144.0,"c":146.06},{"d":"2021-09-20","h":147.5,"l":141.3,"c":146.9},{"d":"2021-09-27","h":145.7,"l":138.3,"c":142.65},{"d":"2021-10-04","h":144.2,"l":138.3,"c":142.9},{"d":"2021-10-11","h":144.9,"l":139.2,"c":144.8},{"d":"2021-10-18","h":150.2,"l":143.2,"c":148.7},{"d":"2021-10-25","h":153.2,"l":145.6,"c":149.8},{"d":"2021-11-01","h":152.4,"l":147.8,"c":151.3},{"d":"2021-11-08","h":151.6,"l":147.5,"c":149.99},{"d":"2021-11-15","h":161.0,"l":149.3,"c":160.55},{"d":"2021-11-22","h":165.7,"l":156.4,"c":156.8},{"d":"2021-11-29","h":170.3,"l":157.8,"c":161.8},{"d":"2021-12-06","h":179.6,"l":164.5,"c":179.45},{"d":"2021-12-13","h":182.1,"l":167.5,"c":171.1},{"d":"2021-12-20","h":176.9,"l":167.9,"c":176.3},{"d":"2021-12-27","h":181.3,"l":176.3,"c":177.6},
{"d":"2022-01-03","h":182.9,"l":171.0,"c":172.2},{"d":"2022-01-10","h":177.2,"l":168.2,"c":173.1},{"d":"2022-01-17","h":172.5,"l":162.3,"c":162.4},{"d":"2022-01-24","h":170.3,"l":154.7,"c":170.3},{"d":"2022-01-31","h":176.2,"l":169.5,"c":172.4},{"d":"2022-02-07","h":176.6,"l":168.2,"c":168.6},{"d":"2022-02-14","h":174.0,"l":166.6,"c":167.3},{"d":"2022-02-21","h":166.2,"l":152.0,"c":164.85},{"d":"2022-02-28","h":166.6,"l":162.6,"c":163.2},{"d":"2022-03-07","h":170.0,"l":154.0,"c":154.7},{"d":"2022-03-14","h":164.5,"l":150.1,"c":163.98},{"d":"2022-03-21","h":175.3,"l":163.2,"c":174.7},{"d":"2022-03-28","h":179.6,"l":173.3,"c":174.3},{"d":"2022-04-04","h":178.5,"l":169.3,"c":170.1},{"d":"2022-04-11","h":171.0,"l":164.9,"c":165.3},{"d":"2022-04-18","h":171.5,"l":161.5,"c":161.8},{"d":"2022-04-25","h":166.2,"l":155.4,"c":157.7},{"d":"2022-05-02","h":166.5,"l":153.3,"c":157.3},{"d":"2022-05-09","h":155.5,"l":138.8,"c":147.1},{"d":"2022-05-16","h":149.8,"l":132.6,"c":137.6},{"d":"2022-05-23","h":149.7,"l":137.4,"c":149.6},{"d":"2022-05-30","h":151.7,"l":144.4,"c":145.4},{"d":"2022-06-06","h":149.9,"l":137.0,"c":137.1},{"d":"2022-06-13","h":137.3,"l":129.0,"c":131.6},{"d":"2022-06-20","h":141.9,"l":133.0,"c":141.7},{"d":"2022-06-27","h":143.5,"l":133.8,"c":138.9},{"d":"2022-07-04","h":147.6,"l":137.0,"c":147.0},{"d":"2022-07-11","h":150.9,"l":142.0,"c":150.2},{"d":"2022-07-18","h":156.3,"l":146.7,"c":154.1},{"d":"2022-07-25","h":163.6,"l":149.6,"c":162.5},{"d":"2022-08-01","h":167.2,"l":159.6,"c":165.35},{"d":"2022-08-08","h":172.2,"l":163.6,"c":172.1},{"d":"2022-08-15","h":176.2,"l":170.9,"c":171.5},{"d":"2022-08-22","h":171.1,"l":163.3,"c":163.6},{"d":"2022-08-29","h":162.9,"l":155.5,"c":155.8},{"d":"2022-09-05","h":157.8,"l":152.8,"c":157.4},{"d":"2022-09-12","h":164.3,"l":148.6,"c":150.7},{"d":"2022-09-19","h":158.7,"l":148.4,"c":150.4},{"d":"2022-09-26","h":154.7,"l":138.1,"c":138.2},{"d":"2022-10-03","h":147.5,"l":138.2,"c":140.1},{"d":"2022-10-10","h":144.5,"l":137.3,"c":138.4},{"d":"2022-10-17","h":148.0,"l":140.3,"c":147.3},{"d":"2022-10-24","h":157.5,"l":142.7,"c":155.7},{"d":"2022-10-31","h":155.5,"l":134.4,"c":138.4},{"d":"2022-11-07","h":150.0,"l":134.4,"c":149.7},{"d":"2022-11-14","h":153.6,"l":146.2,"c":151.3},{"d":"2022-11-21","h":151.8,"l":147.7,"c":148.1},{"d":"2022-11-28","h":149.1,"l":140.4,"c":147.8},{"d":"2022-12-05","h":148.6,"l":140.9,"c":142.2},{"d":"2022-12-12","h":149.9,"l":133.7,"c":134.5},{"d":"2022-12-19","h":136.6,"l":129.6,"c":131.9},{"d":"2022-12-26","h":131.4,"l":125.9,"c":129.9},
{"d":"2023-01-02","h":130.3,"l":124.2,"c":129.6},{"d":"2023-01-09","h":134.9,"l":128.1,"c":134.8},{"d":"2023-01-16","h":138.6,"l":133.9,"c":137.9},{"d":"2023-01-23","h":147.2,"l":138.1,"c":145.9},{"d":"2023-01-30","h":157.4,"l":141.3,"c":154.5},{"d":"2023-02-06","h":155.2,"l":149.2,"c":151.0},{"d":"2023-02-13","h":156.3,"l":150.0,"c":152.6},{"d":"2023-02-20","h":151.3,"l":145.7,"c":146.7},{"d":"2023-02-27","h":151.1,"l":145.6,"c":151.0},{"d":"2023-03-06","h":156.3,"l":148.2,"c":148.5},{"d":"2023-03-13","h":156.7,"l":147.6,"c":155.0},{"d":"2023-03-20","h":162.1,"l":155.0,"c":160.25},{"d":"2023-03-27","h":165.0,"l":155.4,"c":164.9},{"d":"2023-04-03","h":166.8,"l":163.9,"c":164.7},{"d":"2023-04-10","h":166.3,"l":159.8,"c":165.2},{"d":"2023-04-17","h":168.2,"l":164.9,"c":165.0},{"d":"2023-04-24","h":169.9,"l":161.3,"c":169.7},{"d":"2023-05-01","h":174.3,"l":164.3,"c":173.6},{"d":"2023-05-08","h":174.6,"l":170.4,"c":172.6},{"d":"2023-05-15","h":176.4,"l":171.1,"c":175.2},{"d":"2023-05-22","h":175.8,"l":171.6,"c":175.4},{"d":"2023-05-29","h":181.8,"l":175.8,"c":180.95},{"d":"2023-06-05","h":184.95,"l":177.1,"c":180.96},{"d":"2023-06-12","h":186.99,"l":180.3,"c":184.9},{"d":"2023-06-19","h":187.6,"l":182.9,"c":186.7},{"d":"2023-06-26","h":194.5,"l":185.0,"c":193.97},{"d":"2023-07-03","h":193.9,"l":189.2,"c":190.7},{"d":"2023-07-10","h":191.7,"l":186.6,"c":190.7},{"d":"2023-07-17","h":198.2,"l":191.2,"c":191.9},{"d":"2023-07-24","h":196.6,"l":191.2,"c":195.8},{"d":"2023-07-31","h":196.7,"l":181.9,"c":181.99},{"d":"2023-08-07","h":183.1,"l":176.6,"c":177.8},{"d":"2023-08-14","h":179.7,"l":171.96,"c":174.5},{"d":"2023-08-21","h":181.6,"l":175.1,"c":178.6},{"d":"2023-08-28","h":189.9,"l":178.5,"c":189.5},{"d":"2023-09-04","h":189.98,"l":173.5,"c":178.2},{"d":"2023-09-11","h":180.3,"l":173.6,"c":175.0},{"d":"2023-09-18","h":179.7,"l":173.6,"c":174.8},{"d":"2023-09-25","h":174.0,"l":167.6,"c":171.2},{"d":"2023-10-02","h":177.99,"l":170.6,"c":177.5},{"d":"2023-10-09","h":182.3,"l":176.9,"c":178.85},{"d":"2023-10-16","h":179.1,"l":172.6,"c":172.9},{"d":"2023-10-23","h":174.0,"l":165.7,"c":168.2},{"d":"2023-10-30","h":177.8,"l":167.9,"c":176.65},{"d":"2023-11-06","h":187.6,"l":176.2,"c":186.4},{"d":"2023-11-13","h":191.2,"l":184.2,"c":189.7},{"d":"2023-11-20","h":192.9,"l":189.3,"c":189.97},{"d":"2023-11-27","h":192.1,"l":188.2,"c":191.2},{"d":"2023-12-04","h":195.99,"l":187.4,"c":195.7},{"d":"2023-12-11","h":199.62,"l":193.6,"c":197.6},{"d":"2023-12-18","h":197.7,"l":191.9,"c":193.6},{"d":"2023-12-25","h":194.7,"l":191.1,"c":192.5},
{"d":"2024-01-01","h":188.4,"l":180.9,"c":181.2},{"d":"2024-01-08","h":187.1,"l":181.2,"c":185.9},{"d":"2024-01-15","h":191.95,"l":180.2,"c":191.6},{"d":"2024-01-22","h":196.4,"l":191.9,"c":192.4},{"d":"2024-01-29","h":192.2,"l":183.9,"c":185.85},{"d":"2024-02-05","h":191.05,"l":185.8,"c":188.85},{"d":"2024-02-12","h":188.7,"l":180.9,"c":182.3},{"d":"2024-02-19","h":185.0,"l":180.6,"c":182.5},{"d":"2024-02-26","h":183.9,"l":179.3,"c":179.7},{"d":"2024-03-04","h":176.9,"l":168.5,"c":170.7},{"d":"2024-03-11","h":174.3,"l":170.3,"c":172.6},{"d":"2024-03-18","h":178.7,"l":168.9,"c":172.3},{"d":"2024-03-25","h":173.6,"l":169.5,"c":171.5},{"d":"2024-04-01","h":171.9,"l":168.2,"c":169.6},{"d":"2024-04-08","h":178.4,"l":167.9,"c":176.55},{"d":"2024-04-15","h":176.8,"l":164.1,"c":165.0},{"d":"2024-04-22","h":171.3,"l":164.8,"c":169.3},{"d":"2024-04-29","h":187.0,"l":169.1,"c":183.4},{"d":"2024-05-06","h":184.9,"l":181.6,"c":183.05},{"d":"2024-05-13","h":191.1,"l":184.6,"c":189.9},{"d":"2024-05-20","h":192.8,"l":186.6,"c":189.98},{"d":"2024-05-27","h":193.0,"l":189.9,"c":192.25},{"d":"2024-06-03","h":196.9,"l":192.2,"c":196.9},{"d":"2024-06-10","h":220.2,"l":192.2,"c":212.5},{"d":"2024-06-17","h":218.95,"l":206.2,"c":207.5},{"d":"2024-06-24","h":216.1,"l":207.2,"c":210.6},{"d":"2024-07-01","h":226.5,"l":215.3,"c":226.3},{"d":"2024-07-08","h":232.4,"l":223.8,"c":230.5},{"d":"2024-07-15","h":237.2,"l":222.3,"c":224.3},{"d":"2024-07-22","h":227.8,"l":214.6,"c":217.96},{"d":"2024-07-29","h":232.5,"l":216.7,"c":219.9},{"d":"2024-08-05","h":216.8,"l":196.0,"c":216.2},{"d":"2024-08-12","h":226.8,"l":212.0,"c":226.05},{"d":"2024-08-19","h":228.3,"l":223.0,"c":226.8},{"d":"2024-08-26","h":232.9,"l":223.9,"c":229.0},{"d":"2024-09-02","h":229.0,"l":217.5,"c":220.8},{"d":"2024-09-09","h":224.0,"l":216.7,"c":222.5},{"d":"2024-09-16","h":233.1,"l":213.9,"c":228.2},{"d":"2024-09-23","h":229.5,"l":223.0,"c":227.8},{"d":"2024-09-30","h":229.7,"l":223.9,"c":226.8},{"d":"2024-10-07","h":229.75,"l":221.3,"c":227.55},{"d":"2024-10-14","h":236.2,"l":228.8,"c":235.0},{"d":"2024-10-21","h":236.9,"l":227.8,"c":231.4},{"d":"2024-10-28","h":234.7,"l":220.3,"c":222.9},{"d":"2024-11-04","h":228.7,"l":219.7,"c":226.96},{"d":"2024-11-11","h":228.9,"l":221.5,"c":225.0},{"d":"2024-11-18","h":230.7,"l":222.8,"c":229.9},{"d":"2024-11-25","h":237.8,"l":228.9,"c":237.3},{"d":"2024-12-02","h":244.6,"l":237.2,"c":242.8},{"d":"2024-12-09","h":250.8,"l":242.2,"c":248.1},{"d":"2024-12-16","h":255.0,"l":245.7,"c":254.5},{"d":"2024-12-23","h":260.1,"l":253.5,"c":255.6},{"d":"2024-12-30","h":253.5,"l":241.8,"c":243.4},
{"d":"2025-01-06","h":247.3,"l":233.0,"c":236.85},{"d":"2025-01-13","h":238.96,"l":219.4,"c":229.98},{"d":"2025-01-20","h":227.0,"l":219.38,"c":222.8},{"d":"2025-01-27","h":247.2,"l":224.0,"c":236.0},{"d":"2025-02-03","h":235.2,"l":225.7,"c":227.6},{"d":"2025-02-10","h":245.6,"l":227.2,"c":244.6},{"d":"2025-02-17","h":248.7,"l":243.7,"c":245.55},{"d":"2025-02-24","h":250.0,"l":230.2,"c":241.8},{"d":"2025-03-03","h":244.0,"l":229.2,"c":239.1},{"d":"2025-03-10","h":236.2,"l":208.4,"c":213.5},{"d":"2025-03-17","h":218.8,"l":209.6,"c":218.3},{"d":"2025-03-24","h":225.0,"l":217.7,"c":217.9},{"d":"2025-03-31","h":225.2,"l":187.3,"c":188.4},{"d":"2025-04-07","h":200.6,"l":169.2,"c":198.15},{"d":"2025-04-14","h":212.9,"l":193.2,"c":196.98},{"d":"2025-04-21","h":209.8,"l":193.2,"c":209.3},{"d":"2025-04-28","h":214.6,"l":202.0,"c":205.35},{"d":"2025-05-05","h":205.0,"l":193.3,"c":198.5},{"d":"2025-05-12","h":213.9,"l":206.0,"c":211.3},{"d":"2025-05-19","h":207.0,"l":193.5,"c":195.3},{"d":"2025-05-26","h":202.7,"l":198.5,"c":200.85},{"d":"2025-06-02","h":206.0,"l":199.5,"c":203.9},{"d":"2025-06-09","h":206.3,"l":195.1,"c":196.45},{"d":"2025-06-16","h":201.7,"l":195.2,"c":201.0},{"d":"2025-06-23","h":203.7,"l":199.3,"c":201.1},{"d":"2025-06-30","h":214.7,"l":202.7,"c":213.55},{"d":"2025-07-07","h":212.4,"l":207.2,"c":211.2},{"d":"2025-07-14","h":212.4,"l":207.9,"c":211.2},{"d":"2025-07-21","h":215.8,"l":211.0,"c":213.9},{"d":"2025-07-28","h":214.8,"l":201.5,"c":202.38}
]},
"encoding":{"x":{"field":"d","type":"temporal","title":null,
 "scale":{"type":"utc","domain":[{"year":2008,"month":5,"date":17,"utc":true},{"year":2026,"month":6,"date":15,"utc":true}]},
 "axis":{"title":null,"orient":"bottom","grid":true,"gridColor":"#e6e6e6","gridWidth":1,"ticks":false,"domain":true,"domainColor":"#505050","domainWidth":1,"labelPadding":7,"labelFlush":false,"labelOverlap":false,"labelBound":false,"labelFontSize":12,
  "labelExpr":"utcmonth(datum.value) == 0 ? utcFormat(datum.value, '%Y') : 'Jul'",
  "labelFontWeight":{"condition":{"test":"utcmonth(datum.value) == 0","value":"bold"},"value":"normal"},
  "labelColor":{"condition":{"test":"utcmonth(datum.value) == 0","value":"#2f2f2f"},"value":"#5c5c5c"},
  "values":[{"year":2008,"month":7,"date":1,"utc":true},{"year":2009,"month":1,"date":1,"utc":true},{"year":2009,"month":7,"date":1,"utc":true},{"year":2010,"month":1,"date":1,"utc":true},{"year":2010,"month":7,"date":1,"utc":true},{"year":2011,"month":1,"date":1,"utc":true},{"year":2011,"month":7,"date":1,"utc":true},{"year":2012,"month":1,"date":1,"utc":true},{"year":2012,"month":7,"date":1,"utc":true},{"year":2013,"month":1,"date":1,"utc":true},{"year":2013,"month":7,"date":1,"utc":true},{"year":2014,"month":1,"date":1,"utc":true},{"year":2014,"month":7,"date":1,"utc":true},{"year":2015,"month":1,"date":1,"utc":true},{"year":2015,"month":7,"date":1,"utc":true},{"year":2016,"month":1,"date":1,"utc":true},{"year":2016,"month":7,"date":1,"utc":true},{"year":2017,"month":1,"date":1,"utc":true},{"year":2017,"month":7,"date":1,"utc":true},{"year":2018,"month":1,"date":1,"utc":true},{"year":2018,"month":7,"date":1,"utc":true},{"year":2019,"month":1,"date":1,"utc":true},{"year":2019,"month":7,"date":1,"utc":true},{"year":2020,"month":1,"date":1,"utc":true},{"year":2020,"month":7,"date":1,"utc":true},{"year":2021,"month":1,"date":1,"utc":true},{"year":2021,"month":7,"date":1,"utc":true},{"year":2022,"month":1,"date":1,"utc":true},{"year":2022,"month":7,"date":1,"utc":true},{"year":2023,"month":1,"date":1,"utc":true},{"year":2023,"month":7,"date":1,"utc":true},{"year":2024,"month":1,"date":1,"utc":true},{"year":2024,"month":7,"date":1,"utc":true},{"year":2025,"month":1,"date":1,"utc":true},{"year":2025,"month":7,"date":1,"utc":true},{"year":2026,"month":1,"date":1,"utc":true}]}}},
"layer":[
{"data":{"name":"px"},"mark":{"type":"rule","color":"#000000","strokeWidth":1.2},
 "encoding":{"y":{"field":"l","type":"quantitative","title":null,"scale":{"type":"log","domain":[1.2786,319.4],"nice":false,"zero":false},
  "axis":{"title":null,"orient":"right","grid":true,"gridColor":"#e6e6e6","gridWidth":1,"ticks":false,"domain":true,"domainColor":"#505050","domainWidth":1,"labelPadding":10,"labelOverlap":false,"labelFontSize":12,"labelColor":"#4f4f4f","labelBound":false,"labelFlush":false,
   "values":[300,260,220,190,165,141,121,105,90,77.5,67.5,57.5,49.5,41.5,35.5,30.5,26.5,22.5,19.5,17,14.5,12.5,10.5,9,7.8,6.8,5.8,5,4.3,3.7,3.2,2.8,2.45,2.1,1.84,1.606,1.478,1.366],
   "labelExpr":"datum.value < 1.8 ? '' : format(datum.value, '.2f')"}},
  "y2":{"field":"h"}}},
{"data":{"name":"px"},"mark":{"type":"tick","orient":"horizontal","size":2,"thickness":1,"xOffset":1,"color":"#000000"},
 "encoding":{"y":{"field":"c","type":"quantitative","title":null,"scale":{"type":"log","domain":[1.2786,319.4],"nice":false,"zero":false}}}},
{"data":{"name":"tl"},"transform":[{"filter":{"field":"id","oneOf":["iPhone","iPod"]}}],"mark":{"type":"line","color":"#139c13","strokeWidth":2.6,"clip":true},
 "encoding":{"y":{"field":"p","type":"quantitative","title":null,"scale":{"type":"log","domain":[1.2786,319.4],"nice":false,"zero":false}},"detail":{"field":"id"}}},
{"data":{"name":"tl"},"transform":[{"filter":{"field":"id","oneOf":["thin1","thin2"]}}],"mark":{"type":"line","color":"#2aa62a","strokeWidth":1,"clip":true},
 "encoding":{"y":{"field":"p","type":"quantitative","title":null,"scale":{"type":"log","domain":[1.2786,319.4],"nice":false,"zero":false}},"detail":{"field":"id"}}},
{"data":{"name":"tl"},"transform":[{"filter":{"field":"id","equal":"lt"}}],"mark":{"type":"line","color":"#4caf50","strokeWidth":3.4,"clip":true},
 "encoding":{"y":{"field":"p","type":"quantitative","title":null,"scale":{"type":"log","domain":[1.2786,319.4],"nice":false,"zero":false}}}},
{"data":{"name":"tl"},"transform":[{"filter":{"field":"id","equal":"dg"}}],"mark":{"type":"line","color":"#2ca52c","strokeWidth":1.2,"strokeDash":[5,5],"clip":true},
 "encoding":{"y":{"field":"p","type":"quantitative","title":null,"scale":{"type":"log","domain":[1.2786,319.4],"nice":false,"zero":false}}}},
{"data":{"name":"tl"},"transform":[{"filter":{"field":"id","equal":"cd"}}],"mark":{"type":"line","color":"#4fc6e0","strokeWidth":1.2,"strokeDash":[6,5],"clip":true},
 "encoding":{"y":{"field":"p","type":"quantitative","title":null,"scale":{"type":"log","domain":[1.2786,319.4],"nice":false,"zero":false}}}},
{"data":{"name":"tl"},"transform":[{"filter":{"field":"id","equal":"cdot"}}],"mark":{"type":"line","color":"#45bcd8","strokeWidth":1.2,"strokeDash":[1.5,2.5],"clip":true},
 "encoding":{"y":{"field":"p","type":"quantitative","title":null,"scale":{"type":"log","domain":[1.2786,319.4],"nice":false,"zero":false}}}},
{"data":{"name":"tl"},"transform":[{"filter":{"field":"id","equal":"red"}}],"mark":{"type":"line","color":"#f06a6a","strokeWidth":1,"clip":true},
 "encoding":{"y":{"field":"p","type":"quantitative","title":null,"scale":{"type":"log","domain":[1.2786,319.4],"nice":false,"zero":false}}}},
{"data":{"name":"lb"},"transform":[{"filter":{"field":"t","equal":"iPhone-Trend"}}],"mark":{"type":"text","color":"#1e9e1e","font":"Roboto","fontSize":15,"angle":-28.15,"align":"center","baseline":"bottom","dy":-2},
 "encoding":{"y":{"field":"p","type":"quantitative","title":null,"scale":{"type":"log","domain":[1.2786,319.4],"nice":false,"zero":false}},"text":{"field":"t"}}},
{"data":{"name":"lb"},"transform":[{"filter":{"field":"t","equal":"iPod-Trend"}}],"mark":{"type":"text","color":"#1e9e1e","font":"Roboto","fontSize":15,"angle":-31.0,"align":"center","baseline":"bottom","dy":-2},
 "encoding":{"y":{"field":"p","type":"quantitative","title":null,"scale":{"type":"log","domain":[1.2786,319.4],"nice":false,"zero":false}},"text":{"field":"t"}}},
{"data":{"name":"last"},"mark":{"type":"tick","orient":"horizontal","size":84,"thickness":18,"cornerRadius":3,"xOffset":6,"color":"#000000","opacity":1,"clip":false},
 "encoding":{"y":{"field":"p","type":"quantitative","title":null,"scale":{"type":"log","domain":[1.2786,319.4],"nice":false,"zero":false}}}},
{"data":{"name":"last"},"mark":{"type":"text","color":"#ffffff","font":"Roboto","fontSize":12.5,"align":"center","baseline":"middle","dx":-18,"clip":false},
 "encoding":{"y":{"field":"p","type":"quantitative","title":null,"scale":{"type":"log","domain":[1.2786,319.4],"nice":false,"zero":false}},"text":{"field":"s"}}},
{"data":{"name":"last"},"mark":{"type":"text","color":"#ffffff","font":"Roboto","fontSize":12.5,"align":"center","baseline":"middle","dx":27,"clip":false},
 "encoding":{"y":{"field":"p","type":"quantitative","title":null,"scale":{"type":"log","domain":[1.2786,319.4],"nice":false,"zero":false}},"text":{"field":"p","format":".2f"}}}
]
}
